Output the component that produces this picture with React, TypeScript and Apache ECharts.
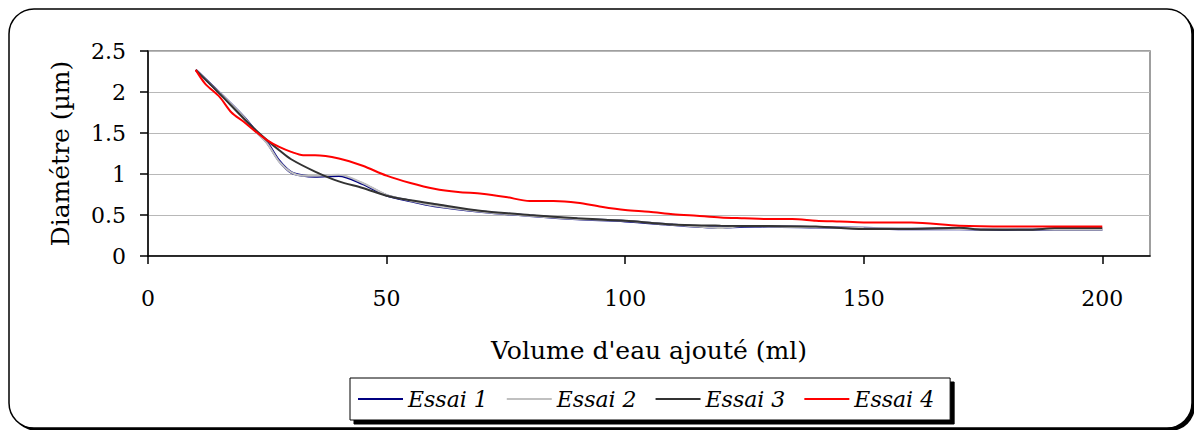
import React, { useEffect, useRef } from "react";
import * as echarts from "echarts";

const seriesNames = ["Essai 1", "Essai 2", "Essai 3", "Essai 4"];
const seriesColors = ["#000080", "#c0c0c0", "#333333", "#ff0000"];

const x1 = [10, 15, 20, 22.5, 25, 27.5, 30, 32.5, 35, 40, 45, 50, 55, 60, 70, 80, 90, 100, 110, 115, 120, 125, 130, 140, 150, 160, 170, 180, 190, 200];
const y1 = [2.27, 1.99, 1.7, 1.53, 1.38, 1.16, 1.02, 0.98, 0.97, 0.98, 0.88, 0.74, 0.67, 0.61, 0.54, 0.49, 0.45, 0.425, 0.38, 0.36, 0.345, 0.36, 0.36, 0.35, 0.34, 0.33, 0.33, 0.32, 0.32, 0.32];

const x2 = [10, 15, 20, 22.5, 25, 27.5, 30, 32.5, 35, 40, 45, 50, 55, 60, 70, 80, 90, 100, 110, 115, 120, 125, 130, 140, 150, 160, 170, 180, 190, 200];
const y2 = [2.27, 1.99, 1.7, 1.52, 1.37, 1.15, 1.02, 0.98, 0.98, 0.99, 0.89, 0.745, 0.675, 0.615, 0.54, 0.49, 0.45, 0.43, 0.38, 0.36, 0.34, 0.365, 0.36, 0.35, 0.34, 0.335, 0.33, 0.325, 0.32, 0.32];

const x3 = [10, 15, 20, 22.5, 25, 27.5, 30, 35, 40, 45, 50, 55, 60, 70, 80, 90, 100, 110, 120, 130, 140, 150, 160, 170, 175, 185, 190, 200];
const y3 = [2.27, 1.98, 1.68, 1.54, 1.41, 1.29, 1.18, 1.03, 0.91, 0.83, 0.735, 0.68, 0.635, 0.55, 0.5, 0.46, 0.43, 0.385, 0.37, 0.365, 0.36, 0.33, 0.33, 0.345, 0.32, 0.32, 0.34, 0.34];

const x4 = [10, 12, 15, 17.5, 20, 22.5, 25, 27.5, 30, 32.5, 35, 40, 45, 50, 55, 60, 65, 70, 75, 80, 85, 90, 95, 100, 105, 110, 115, 120, 125, 130, 135, 140, 145, 150, 160, 170, 180, 190, 200];
const y4 = [2.27, 2.1, 1.94, 1.75, 1.64, 1.52, 1.41, 1.33, 1.27, 1.23, 1.23, 1.19, 1.1, 0.98, 0.89, 0.82, 0.78, 0.76, 0.72, 0.67, 0.67, 0.65, 0.6, 0.56, 0.54, 0.51, 0.49, 0.47, 0.46, 0.45, 0.45, 0.43, 0.42, 0.41, 0.41, 0.37, 0.36, 0.36, 0.36];

const xTicks = [0, 50, 100, 150, 200];
const xTitle = "Volume d'eau ajouté (ml)";
const yTitle = "Diamétre (µm)";

const FONT = "DejaVu Serif";

export default function App() {
  const ref = useRef<HTMLDivElement>(null);
  useEffect(() => {
    document.body.style.margin = "0";
    const chart = echarts.init(ref.current!, null, { renderer: "svg" });
    const xs = [x1, x2, x3, x4];
    const ys = [y1, y2, y3, y4];
    const option: any = {
      animation: false,
      backgroundColor: "#fff",
      graphic: [
        {
          type: "rect",
          z: -10,
          shape: { x: 12, y: 12, width: 1183, height: 419, r: 25 },
          style: { fill: "#000" },
        },
        {
          type: "rect",
          z: -9,
          shape: { x: 9, y: 9, width: 1183, height: 419, r: 25 },
          style: { fill: "#fff", stroke: "#000", lineWidth: 1.5 },
        },
      ],
      grid: {
        left: 148,
        top: 51,
        width: 1002,
        height: 205,
        show: true,
        borderColor: "#808080",
        borderWidth: 1.5,
        backgroundColor: "transparent",
      },
      legend: {
        data: seriesNames,
        left: 350,
        top: 378,
        icon: "rect",
        itemWidth: 45,
        itemHeight: 2,
        itemGap: 19,
        padding: [10, 16, 10, 8],
        backgroundColor: "#fff",
        borderColor: "#000",
        borderWidth: 1,
        shadowColor: "#000",
        shadowOffsetX: 4,
        shadowOffsetY: 4,
        shadowBlur: 0,
        textStyle: { fontFamily: FONT, fontStyle: "italic", fontSize: 22, color: "#000" },
      },
      xAxis: {
        type: "value",
        min: 0,
        max: 210,
        interval: 50,
        name: xTitle,
        nameLocation: "middle",
        nameGap: 82,
        nameTextStyle: { fontFamily: FONT, fontSize: 25, color: "#000" },
        axisLine: { show: true, onZero: false, lineStyle: { color: "#000", width: 1.5 } },
        axisTick: { show: true, length: 8, customValues: xTicks, lineStyle: { color: "#000", width: 1.5 } },
        axisLabel: { margin: 31, customValues: xTicks, fontFamily: FONT, fontSize: 22, color: "#000" },
        splitLine: { show: false },
      },
      yAxis: {
        type: "value",
        min: 0,
        max: 2.5,
        interval: 0.5,
        name: yTitle,
        nameLocation: "middle",
        nameGap: 75,
        nameRotate: 90,
        nameTextStyle: { fontFamily: FONT, fontSize: 25, color: "#000" },
        axisLine: { show: true, lineStyle: { color: "#000", width: 1.5 } },
        axisTick: { show: true, length: 8, lineStyle: { color: "#000", width: 1.5 } },
        axisLabel: { margin: 22, fontFamily: FONT, fontSize: 22, color: "#000", formatter: (v: number) => String(v) },
        splitLine: { show: true, lineStyle: { color: "#b8b8b8", width: 1 } },
      },
      series: seriesNames.map((name, i) => ({
        name,
        type: "line",
        data: xs[i].map((x, j) => [x, ys[i][j]]),
        symbol: "none",
        smooth: 0.3,
        color: seriesColors[i],
        lineStyle: { color: seriesColors[i], width: i === 0 ? 2.5 : 2 },
        z: 2 + i,
      })),
    };
    chart.setOption(option);
    return () => chart.dispose();
  }, []);
  return <div ref={ref} style={{ width: 1194, height: 430 }} />;
}
